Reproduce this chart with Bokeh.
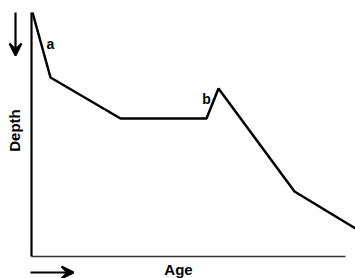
from bokeh.plotting import figure
from bokeh.models import Range1d, Arrow, VeeHead
from bokeh.core.properties import value
from bokeh.embed import file_html
from bokeh.resources import INLINE

# Age-depth curve (arbitrary units)
age = [1, 19, 89, 175, 187, 263, 324]
depth = [0, 65, 106, 106, 76, 179, 216]

# Annotated points
label_text = ["a", "b"]
label_age = [19, 175]
label_depth = [31, 86]

axis_age_max = 314
axis_depth_max = 244

p = figure(width=355, height=278, output_backend="svg", toolbar_location=None,
           x_range=Range1d(-31, 324), y_range=Range1d(266, -12), min_border=0)
p.axis.visible = False
p.grid.visible = False
p.outline_line_color = None
p.background_fill_color = "white"
p.border_fill_color = "white"

# axes lines
p.segment(x0=[0, 0], y0=[0, axis_depth_max], x1=[0, axis_age_max], y1=[axis_depth_max, axis_depth_max],
          line_color=["black", "#333333"], line_width=[2.2, 1.6])

# data line
p.line(age, depth, line_color="black", line_width=2.5)

# labels a, b
p.text(x=label_age, y=label_depth, text=label_text, text_font=value("Liberation Sans"),
       text_font_style="bold", text_font_size="14px", text_align="center", text_baseline="middle",
       text_color="black")

# Axis titles
p.text(x=[-17], y=[118], text=["Depth"], angle=1.5708, text_font=value("Liberation Sans"),
       text_font_style="bold", text_font_size="15px", text_align="center", text_baseline="middle")
p.text(x=[147], y=[257], text=["Age"], text_font=value("Liberation Sans"),
       text_font_style="bold", text_font_size="15px", text_align="center", text_baseline="middle")

# direction arrows
p.add_layout(Arrow(end=VeeHead(size=12, fill_color="black", line_color="black", line_width=2),
                   x_start=-16, y_start=0, x_end=-16, y_end=43, line_width=2.2, line_color="black"))
p.add_layout(Arrow(end=VeeHead(size=12, fill_color="black", line_color="black", line_width=2),
                   x_start=-1, y_start=260, x_end=42, y_end=260, line_width=2.2, line_color="black"))

open("out.html", "w").write(file_html(p, INLINE))
